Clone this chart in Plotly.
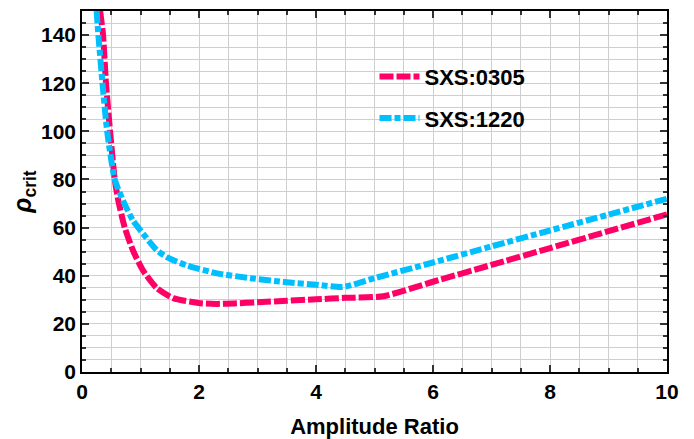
import plotly.graph_objects as go

# SXS:0305
red_x = [0.31, 0.36, 0.41, 0.48, 0.56, 0.62, 0.73, 0.87, 1.04, 1.28, 1.56, 2.02, 2.3, 2.6,
         3.0, 3.5, 4.0, 4.5, 5.15, 6.0, 7.0, 8.0, 9.0, 10.0]
red_y = [150, 140, 120, 100, 80, 71.3, 60.1, 50.6, 42.3, 34.8, 30.7, 28.6, 28.3, 28.5,
         29.0, 29.6, 30.2, 30.8, 31.5, 37.5, 44.5, 51.5, 58.5, 65.5]

# SXS:1220
blue_x = [0.25, 0.28, 0.35, 0.43, 0.56, 0.70, 0.87, 1.04, 1.28, 1.45, 1.79, 2.31, 2.87,
          3.5, 4.0, 4.46, 5.0, 6.0, 7.0, 8.0, 9.0, 10.0]
blue_y = [150, 140, 120, 100, 80, 71.3, 63, 57.6, 50.6, 47.7, 44.3, 41.0, 39.0,
          37.3, 36.3, 35.3, 39.0, 45.5, 52.2, 58.8, 65.4, 72.0]

names = ["SXS:0305", "SXS:1220"]

fig = go.Figure()
fig.add_trace(go.Scatter(x=red_x, y=red_y, mode="lines", name=names[0], legendgroup="a",
                         line=dict(color="#FF0066", width=6, dash="14px,3px", shape="spline", smoothing=0.6)))
fig.add_trace(go.Scatter(x=blue_x, y=blue_y, mode="lines", name=names[1], legendgroup="b",
                         line=dict(color="#00BFFF", width=6, dash="12px,3px,6px,3px", shape="spline", smoothing=0.6)))

axis_common = dict(
    showline=True, linecolor="black", linewidth=1.5, mirror="ticks",
    ticks="inside", ticklen=7, tickwidth=1.5, tickcolor="#333333",
    showgrid=True, gridcolor="#cfcfcf", gridwidth=1,
    zeroline=False, automargin=False,
    tickfont=dict(family="Liberation Sans", size=21, color="black", weight="bold"),
)

fig.update_xaxes(range=[0, 10], dtick=2, tick0=0,
                 minor=dict(dtick=0.5, ticks="inside", ticklen=4, tickcolor="#333333",
                            showgrid=True, gridcolor="#cfcfcf", gridwidth=1),
                 title=dict(text="Amplitude Ratio", standoff=17,
                            font=dict(family="Liberation Sans", size=22, color="black", weight="bold")),
                 **axis_common)
fig.update_yaxes(range=[0, 150], dtick=20, tick0=0,
                 minor=dict(dtick=5, ticks="inside", ticklen=4, tickcolor="#333333",
                            showgrid=True, gridcolor="#cfcfcf", gridwidth=1),
                 title=dict(text="<i>ρ</i><sub>crit</sub>", standoff=10,
                            font=dict(family="Liberation Sans", size=25, color="black", weight="bold")),
                 **axis_common)

fig.update_layout(
    width=686, height=431,
    margin=dict(l=74, r=27, t=3, b=67),
    plot_bgcolor="white", paper_bgcolor="white",
    legend=dict(x=0.5, y=0.76, xanchor="left", yanchor="middle",
                bgcolor="rgba(0,0,0,0)",
                font=dict(family="Liberation Sans", size=22, color="black", weight="bold"),
                tracegroupgap=10, itemwidth=40),
    showlegend=True,
)

fig.write_html("out.html")
